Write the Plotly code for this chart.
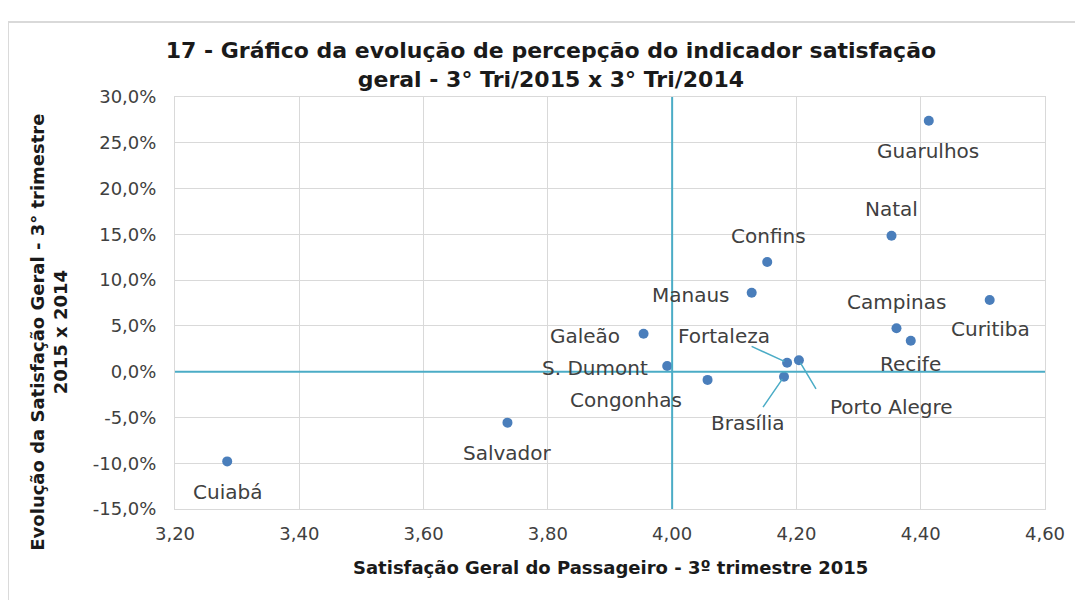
import plotly.graph_objects as go

# ---------------- data ----------------
airports = ["Guarulhos", "Natal", "Confins", "Manaus", "Curitiba", "Campinas",
            "Recife", "Galeão", "Fortaleza", "Porto Alegre", "Brasília",
            "Congonhas", "S. Dumont", "Salvador", "Cuiabá"]
satisfacao_2015 = [4.413, 4.353, 4.153, 4.128, 4.511, 4.361,
                   4.384, 3.954, 4.185, 4.204, 4.180,
                   4.057, 3.992, 3.735, 3.284]
evolucao = [0.274, 0.1485, 0.1198, 0.0862, 0.0783, 0.0474,
            0.0338, 0.0415, 0.0098, 0.0124, -0.0055,
            -0.0090, 0.0062, -0.0557, -0.0980]

x_ticks = [3.2, 3.4, 3.6, 3.8, 4.0, 4.2, 4.4, 4.6]
x_ticklabels = ["3,20", "3,40", "3,60", "3,80", "4,00", "4,20", "4,40", "4,60"]
y_ticks = [0.30, 0.25, 0.20, 0.15, 0.10, 0.05, 0.0, -0.05, -0.10, -0.15]
y_ticklabels = ["30,0%", "25,0%", "20,0%", "15,0%", "10,0%", "5,0%", "0,0%",
                "-5,0%", "-10,0%", "-15,0%"]

x_ref = 4.0   # reference line (vertical)
y_ref = 0.0   # reference line (horizontal)

title = ("17 - Gráfico da evolução de percepção do indicador satisfação<br>"
         "geral - 3° Tri/2015 x 3° Tri/2014")
x_title = "Satisfação Geral do Passageiro - 3º trimestre 2015"
y_title = "Evolução da Satisfação Geral - 3° trimestre<br>2015 x 2014"

# ---------------- label placement (pixels) ----------------
label_shift = {
    "Guarulhos": (-1, -30), "Natal": (0, 27), "Confins": (1, 26),
    "Manaus": (-61, -2), "Curitiba": (1, -29), "Campinas": (0, 26),
    "Recife": (0, -23), "Galeão": (-59, -2), "Fortaleza": (-63, 27),
    "Porto Alegre": (93, -47), "Brasília": (-36, -46),
    "Congonhas": (-82, -20), "S. Dumont": (-72, -2),
    "Salvador": (0, -30), "Cuiabá": (0, -31),
}
leaders = {  # tail offset of leader line relative to the point (ax, ay)
    "Fortaleza": (-37, -17), "Porto Alegre": (18, 30), "Brasília": (-22, 32),
}

TEAL = "#4BACC6"
GRID = "#D9D9D9"
TXT = "#404040"
FONT = "DejaVu Sans"

fig = go.Figure()

# outer chart border
fig.add_shape(type="rect", xref="paper", yref="paper",
              x0=-0.192, x1=1.08, y0=-0.26, y1=1.182,
              line=dict(color=GRID, width=2), layer="below")

fig.add_trace(go.Scatter(
    x=satisfacao_2015, y=evolucao, mode="markers",
    marker=dict(size=10, color="#4A7EBB"),
    hoverinfo="skip", showlegend=False, cliponaxis=False,
))

fig.add_vline(x=x_ref, line=dict(color=TEAL, width=2))
fig.add_hline(y=y_ref, line=dict(color=TEAL, width=2))

annotations = []
for name, xv, yv in zip(airports, satisfacao_2015, evolucao):
    dx, dy = label_shift[name]
    annotations.append(dict(
        x=xv, y=yv, xref="x", yref="y", text=name, showarrow=False,
        xshift=dx, yshift=dy, font=dict(family=FONT, size=20, color=TXT),
    ))
    if name in leaders:
        ax, ay = leaders[name]
        annotations.append(dict(
            x=xv, y=yv, xref="x", yref="y", text="", showarrow=True,
            ax=ax, ay=ay, arrowhead=0, arrowwidth=1.5, arrowcolor=TEAL,
            standoff=3,
        ))

# axis titles
annotations.append(dict(
    x=0.5, y=-0.141, xref="paper", yref="paper", text=x_title, showarrow=False,
    xanchor="center", yanchor="middle",
    font=dict(family=FONT, size=18, color="#1a1a1a", weight="bold"),
))
annotations.append(dict(
    x=-0.145, y=0.43, xref="paper", yref="paper", text=y_title, showarrow=False,
    textangle=-90, xanchor="center", yanchor="middle",
    font=dict(family=FONT, size=18, color="#1a1a1a", weight="bold"),
))

fig.update_layout(
    width=1075, height=592,
    margin=dict(l=167, r=38, t=89, b=91),
    paper_bgcolor="white", plot_bgcolor="white",
    title=dict(text=title, x=0.505, xref="container", xanchor="center",
               y=0.915, yref="container", yanchor="middle",
               font=dict(family=FONT, size=22, color="#1a1a1a", weight="bold")),
    annotations=annotations,
)

fig.update_xaxes(
    range=[3.2, 4.6], tickvals=x_ticks, ticktext=x_ticklabels,
    showgrid=True, gridcolor=GRID, gridwidth=1, zeroline=False,
    showline=True, linecolor=GRID, linewidth=1, mirror=True,
    ticks="outside", ticklen=8, tickcolor="rgba(0,0,0,0)",
    tickfont=dict(family=FONT, size=18, color=TXT),
)
fig.update_yaxes(
    range=[-0.15, 0.30], tickvals=y_ticks, ticktext=y_ticklabels,
    showgrid=True, gridcolor=GRID, gridwidth=1, zeroline=False,
    showline=True, linecolor=GRID, linewidth=1, mirror=True,
    ticks="outside", ticklen=14, tickcolor="rgba(0,0,0,0)",
    tickfont=dict(family=FONT, size=18, color=TXT),
)

fig.write_html("out.html")
